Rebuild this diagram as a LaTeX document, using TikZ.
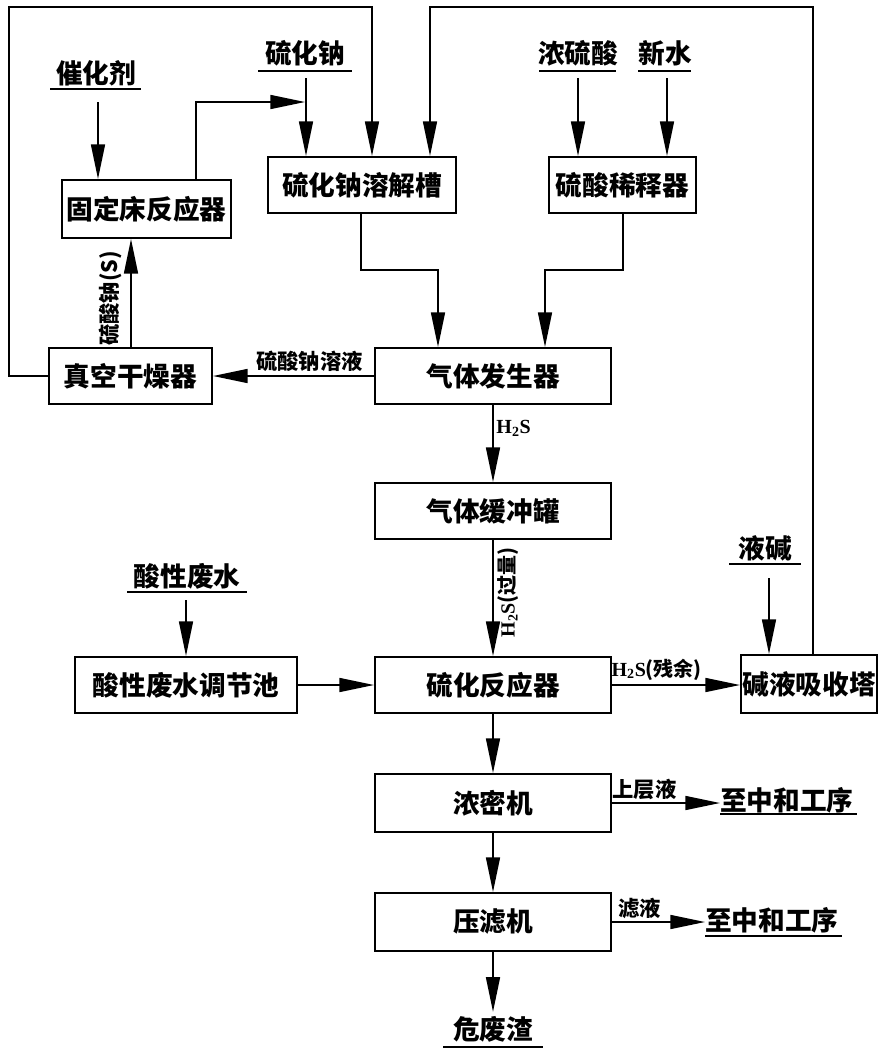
\documentclass[tikz,border=0pt]{standalone}
\usepackage{fontspec}
\setmainfont{Noto Sans CJK SC}
\newfontfamily\lat{Liberation Serif}
\usetikzlibrary{arrows.meta,calc}
\begin{document}
\begin{tikzpicture}[x=0.75pt,y=-0.75pt,
  box/.style={draw,line width=1.5pt,inner sep=0pt,minimum height=42pt,font=\fontsize{20}{24}\selectfont\bfseries},
  arr/.style={line width=1.2pt,-{Triangle[length=26pt,width=10.5pt]}},
  ln/.style={line width=1.5pt},
  lab/.style={inner sep=0pt,font=\fontsize{20}{24}\selectfont\bfseries},
  sm/.style={inner sep=0pt,font=\fontsize{16}{19}\selectfont\bfseries},
  h2s/.style={inner sep=0pt,font=\fontsize{15}{18}\selectfont\bfseries}]
\useasboundingbox (0,0) rectangle (884,1054);

% boxes
\node[box,minimum width=126.75pt,minimum height=43.5pt] (gdc) at (146.5,209) {固定床反应器};
\node[box,minimum width=141pt] (rjc) at (362,185) {硫化钠溶解槽};
\node[box,minimum width=110.25pt] (xsq) at (622.5,185) {硫酸稀释器};
\node[box,minimum width=122.25pt] (zk) at (130.5,376) {真空干燥器};
\node[box,minimum width=177pt] (fsq) at (493,376) {气体发生器};
\node[box,minimum width=177pt] (hcg) at (493,511) {气体缓冲罐};
\node[box,minimum width=177pt] (lhf) at (493,685) {硫化反应器};
\node[box,minimum width=166.5pt] (tjc) at (186,685) {酸性废水调节池};
\node[box,minimum width=102pt,minimum height=43.5pt] (jy) at (809,684) {碱液吸收塔};
\node[box,minimum width=177pt,minimum height=43.5pt] (nmj) at (493,803) {浓密机};
\node[box,minimum width=177pt,minimum height=43.5pt] (ylj) at (493,922) {压滤机};

% source / sink labels
\node[lab] (cat) at (96,73) {催化剂};
\node[lab] (na) at (305,53) {硫化钠};
\node[lab] (hs) at (578,53) {浓硫酸};
\node[lab] (xs) at (665,53) {新水};
\node[lab] (yj) at (765,548) {液碱};
\node[lab] (sw) at (187,576) {酸性废水};
\node[lab,anchor=west] (zh1) at (720,800) {至中和工序};
\node[lab,anchor=west] (zh2) at (705,920) {至中和工序};
\node[lab] (wfz) at (493,1029) {危废渣};

% underlines
\draw[ln] (50,89) -- (141,89);
\draw[ln] (258,71) -- (352,71);
\draw[ln] (539,71) -- (616,71);
\draw[ln] (638,71) -- (691,71);
\draw[ln] (729,564) -- (801,564);
\draw[ln] (127,592) -- (247,592);
\draw[ln] (720,814) -- (857,814);
\draw[ln] (705,936) -- (842,936);
\draw[ln] (443,1047) -- (543,1047);

% coordinates
\coordinate (catA) at (98,102);
\coordinate (naA) at (306,78);
\coordinate (naJ) at (305,102);
\coordinate (gj) at (196,102);
\coordinate (tl) at (9,7);
\coordinate (lx) at (372,0);
\coordinate (rx) at (813,0);
\coordinate (tr) at (430,7);
\coordinate (hsA) at (578,78);
\coordinate (xsA) at (667,78);
\coordinate (m1) at (361,270);
\coordinate (m2) at (438,270);
\coordinate (m3) at (623,270);
\coordinate (m4) at (545,270);
\coordinate (v1) at (131,0);
\coordinate (swA) at (186,600);
\coordinate (yjA) at (769,578);

% connectors
\draw[arr] (catA) -- (catA |- gdc.north);
\draw[arr] (naA) -- (naA |- rjc.north);
\draw[arr] (gj |- gdc.north) |- (naJ);
\draw[arr] (zk.west) -| (tl) -| (lx |- rjc.north);
\draw[arr] (rx |- jy.north) |- (tr) -- (tr |- rjc.north);
\draw[arr] (hsA) -- (hsA |- xsq.north);
\draw[arr] (xsA) -- (xsA |- xsq.north);
\draw[arr] (m1 |- rjc.south) -- (m1) -- (m2) -- (m2 |- fsq.north);
\draw[arr] (m3 |- xsq.south) -- (m3) -- (m4) -- (m4 |- fsq.north);
\draw[arr] (fsq.west) -- node[sm,above=3pt,pos=0.4] {硫酸钠溶液} (zk.east);
\draw[arr] (v1 |- zk.north) -- node[sm,rotate=90,above=6pt,pos=0.45] {硫酸钠(S)} (v1 |- gdc.south);
\draw[arr] (fsq.south) -- node[h2s,right=2pt,pos=0.3] {\lat\bfseries H\textsubscript{2}S} (hcg.north);
\draw[arr] (hcg.south) -- node[h2s,rotate=90,below=3pt,pos=0.45] {{\lat\bfseries H\textsubscript{2}S}(过量)} (lhf.north);
\draw[arr] (swA) -- (swA |- tjc.north);
\draw[arr] (tjc.east) -- (lhf.west);
\draw[arr] (lhf.east) -- node[h2s,above=3pt,pos=0.35] {{\lat\bfseries H\textsubscript{2}S}(残余)} (lhf.east -| jy.west);
\draw[arr] (yjA) -- (yjA |- jy.north);
\draw[arr] (lhf.south) -- (nmj.north);
\draw[arr] (nmj.east) -- node[sm,above=2pt,pos=0.3] {上层液} (nmj.east -| zh1.west);
\draw[arr] (nmj.south) -- (ylj.north);
\draw[arr] (ylj.east) -- node[sm,above=2pt,pos=0.3] {滤液} (ylj.east -| zh2.west);
\draw[arr] (ylj.south) -- ($(wfz.north)+(0,-4)$);
\end{tikzpicture}
\end{document}
